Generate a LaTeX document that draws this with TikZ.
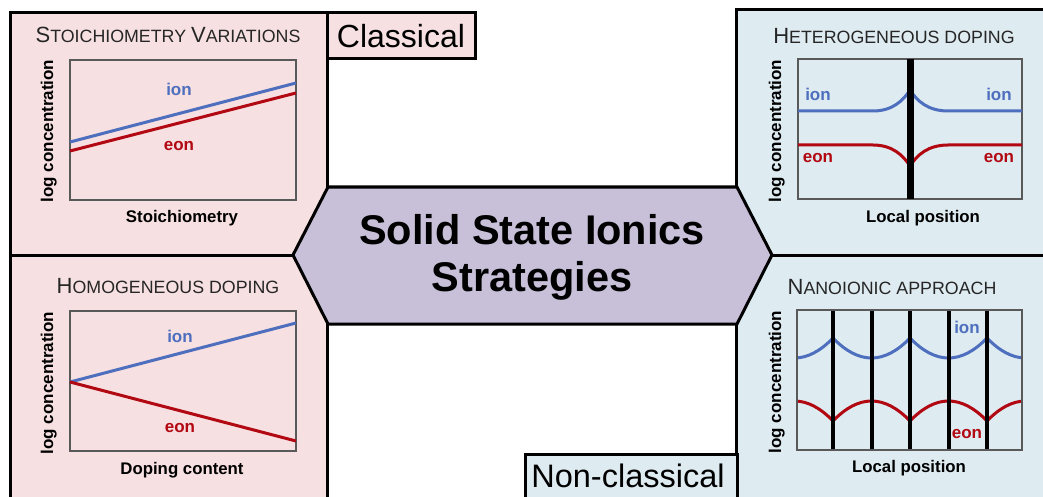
\documentclass[tikz,border=0pt]{standalone}
\usepackage{fontspec}
\setmainfont{Liberation Sans}
\definecolor{pinkfill}{RGB}{247,224,225}
\definecolor{bluefill}{RGB}{222,235,241}
\definecolor{hexfill}{RGB}{200,191,216}
\definecolor{ioncol}{RGB}{78,110,190}
\definecolor{eoncol}{RGB}{178,8,18}
\newcommand\bigC[1]{{\fontsize{22}{22}\selectfont #1}}
\newcommand\smC[1]{{\fontsize{17.8}{22}\selectfont #1}}
\tikzset{
  panel/.style={line width=3pt, draw=black},
  plotbox/.style={line width=1.2pt, draw=black!65},
  ionline/.style={line width=3pt, draw=ioncol},
  eonline/.style={line width=3pt, draw=eoncol},
  ttl/.style={anchor=base, inner sep=0pt, text=black!85, font=\fontsize{17.8}{22}\selectfont},
  xlab/.style={anchor=base, inner sep=0pt, font=\fontsize{16.8}{19}\selectfont\bfseries},
  ylab/.style={anchor=base, inner sep=0pt, rotate=90, font=\fontsize{17}{19}\selectfont\bfseries},
  ionlab/.style={anchor=base, inner sep=0pt, text=ioncol, font=\fontsize{17}{19}\selectfont\bfseries},
  eonlab/.style={anchor=base, inner sep=0pt, text=eoncol, font=\fontsize{17}{19}\selectfont\bfseries},
  bigtag/.style={anchor=base, inner sep=0pt},
}
\begin{document}
\begin{tikzpicture}[x=1pt,y=-1pt]
\useasboundingbox (0,0) rectangle (1043,497);
\fill[white] (0,0) rectangle (1043,497);
\clip (0,0) rectangle (1043,497);
% panels
\draw[panel, fill=pinkfill] (10,13) rectangle (327,255);
\draw[panel, fill=pinkfill] (10,255) rectangle (327,520);
\draw[panel, fill=bluefill] (736,10) rectangle (1060,255);
\draw[panel, fill=bluefill] (736,255) rectangle (1060,520);
% tags
\draw[panel, fill=pinkfill] (327,13) rectangle (475,59);
\node[bigtag, font=\fontsize{32}{36}\selectfont] (classical) at (401,48) {Classical};
\draw[panel, fill=bluefill] (525,454) rectangle (737,520);
\node[bigtag, font=\fontsize{32.5}{36}\selectfont] (nonclassical) at (628,487) {Non-classical};

% ---- top-left: stoichiometry
\node[ttl] (t1) at (168,43) {\bigC{S}\smC{TOICHIOMETRY} \bigC{V}\smC{ARIATIONS}};
\draw[plotbox] (70,60) rectangle (296,200);
\draw[ionline] (70,142) -- (296,83);
\draw[eonline] (70,151) -- (296,93);
\node[ionlab] (i1) at (179,96) {ion};
\node[eonlab] (e1) at (179,151) {eon};
\node[xlab] (x1) at (182,222) {Stoichiometry};
\node[ylab] (y1) at (53,131) {log concentration};

% ---- bottom-left: homogeneous doping
\node[ttl] (t2) at (168,293) {\bigC{H}\smC{OMOGENEOUS} \smC{DOPING}};
\draw[plotbox] (70,311) rectangle (296,451);
\draw[ionline] (70,382) -- (296,323);
\draw[eonline] (70,382) -- (296,441);
\node[ionlab] (i2) at (180,342) {ion};
\node[eonlab] (e2) at (180,432) {eon};
\node[xlab] (x2) at (182,474) {Doping content};
\node[ylab] (y2) at (53,383) {log concentration};

% ---- top-right: heterogeneous doping
\node[ttl] (t3) at (894,44) {\bigC{H}\smC{ETEROGENEOUS} \smC{DOPING}};
\draw[plotbox] (798,59) rectangle (1022,199);
\draw[ionline] (798,111) -- (873,111) .. controls (892,111) and (903,101) .. (910,90)
  .. controls (917,101) and (928,111) .. (948,111) -- (1022,111);
\draw[eonline] (798,145) -- (873,145) .. controls (892,145) and (903,155) .. (910,166)
  .. controls (917,155) and (928,145) .. (948,145) -- (1022,145);
\draw[line width=7pt] (910,59) -- (910,199);
\node[ionlab] (i3a) at (818,101) {ion};
\node[ionlab] (i3b) at (999,101) {ion};
\node[eonlab] (e3a) at (818,163) {eon};
\node[eonlab] (e3b) at (999,163) {eon};
\node[xlab] (x3) at (923,222) {Local position};
\node[ylab] (y3) at (781,131) {log concentration};

% ---- bottom-right: nanoionic approach
\node[ttl] (t4) at (892,294) {\bigC{N}\smC{ANOIONIC} \smC{APPROACH}};
\begin{scope}
\clip (797,310) rectangle (1022,450);
\foreach \c in {833,910,987} {
  \draw[ionline] (\c-38.5,358) .. controls (\c-25.7,358) and (\c-12.8,351.3) .. (\c,338)
     .. controls (\c+12.8,351.3) and (\c+25.7,358) .. (\c+38.5,358);
  \draw[eonline] (\c-38.5,401) .. controls (\c-25.7,401) and (\c-12.8,407.7) .. (\c,421)
     .. controls (\c+12.8,407.7) and (\c+25.7,401) .. (\c+38.5,401);
}
\end{scope}
\foreach \c in {833,872,910,949,987} {
  \draw[line width=4.5pt] (\c,310) -- (\c,450);
}
\draw[plotbox] (797,310) rectangle (1022,450);
\node[ionlab] (i4) at (967,333) {ion};
\node[eonlab] (e4) at (967,438) {eon};
\node[xlab] (x4) at (909,472) {Local position};
\node[ylab] (y4) at (781,382) {log concentration};

% ---- central hexagon
\draw[line width=3pt, fill=hexfill, line join=miter]
  (293,255) -- (328,187) -- (737,187) -- (772,255) -- (737,324) -- (328,324) -- cycle;
\node[align=center, inner sep=0pt, font=\fontsize{41.5}{47}\selectfont\bfseries] (center) at (532,257)
  {Solid State Ionics\\Strategies};
\end{tikzpicture}
\end{document}
